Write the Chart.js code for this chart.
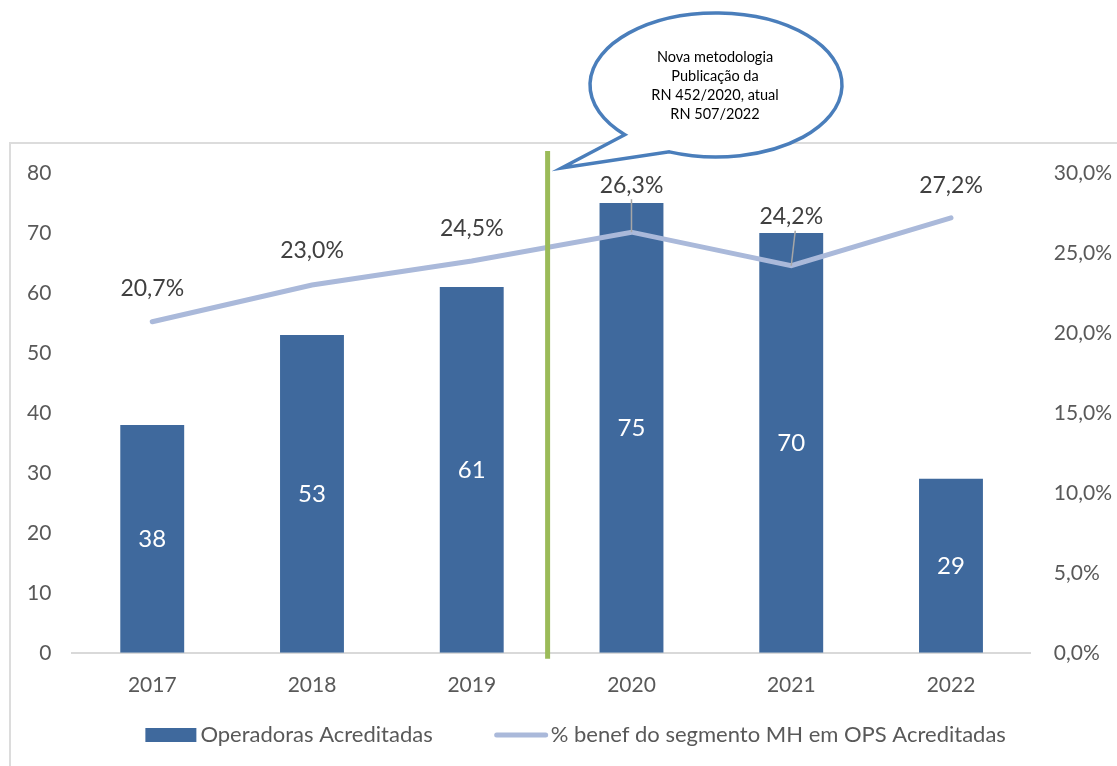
<!DOCTYPE html>
<html>
<head>
<meta charset="utf-8">
<script src="https://cdn.jsdelivr.net/npm/chart.js@4"></script>
<style>
  html, body { margin: 0; padding: 0; background: #fff; }
  #wrap { width: 1117px; height: 766px; }
</style>
</head>
<body>
<div id="wrap"><canvas id="myChart" width="1117" height="766"></canvas></div>
<script>
  const years = ['2017', '2018', '2019', '2020', '2021', '2022'];
  const operadoras = [38, 53, 61, 75, 70, 29];
  const pctBenef = [20.7, 23.0, 24.5, 26.3, 24.2, 27.2];
  const calloutLines = ['Nova metodologia', 'Publicação da', 'RN 452/2020, atual', 'RN 507/2022'];

  const barColor = '#3F699D';
  const lineColor = '#AAB9DA';
  const textColor = '#595959';
  const fontFamily = 'Lato, "Open Sans", sans-serif';

  const fmtPct = v => v.toFixed(1).replace('.', ',') + '%';

  // frame around the chart
  const framePlugin = {
    id: 'frame',
    beforeDraw(chart) {
      const ctx = chart.ctx;
      ctx.save();
      ctx.strokeStyle = '#DCDCDC';
      ctx.lineWidth = 2;
      ctx.strokeRect(10, 143, chart.width + 20, chart.height + 20);
      ctx.restore();
    }
  };

  // value labels on bars and line points
  const labelPlugin = {
    id: 'valueLabels',
    afterDatasetsDraw(chart) {
      const ctx = chart.ctx;
      ctx.save();
      ctx.textAlign = 'center';
      ctx.textBaseline = 'middle';

      const barMeta = chart.getDatasetMeta(0);
      ctx.font = '24px ' + fontFamily;
      ctx.fillStyle = '#FFFFFF';
      barMeta.data.forEach((el, i) => {
        ctx.fillText(operadoras[i], el.x, (el.y + el.base) / 2);
      });

      const lift = [33, 34, 32, 47, 49, 32];
      const lineMeta = chart.getDatasetMeta(1);
      ctx.font = '23px ' + fontFamily;
      lineMeta.data.forEach((el, i) => {
        const ly = el.y - lift[i];
        if (lift[i] > 40) {
          ctx.strokeStyle = '#A6A6A6';
          ctx.lineWidth = 1.5;
          ctx.beginPath();
          ctx.moveTo(el.x + (i === 4 ? 4 : 0), ly + 14);
          ctx.lineTo(el.x, el.y);
          ctx.stroke();
        }
        ctx.fillStyle = '#404040';
        ctx.fillText(fmtPct(pctBenef[i]), el.x, ly);
      });
      ctx.restore();
    }
  };

  // green divider + speech bubble
  const calloutPlugin = {
    id: 'callout',
    afterDraw(chart) {
      const ctx = chart.ctx;
      const x = chart.scales.x;
      const yScale = chart.scales.y;
      const xm = (x.getPixelForValue(2) + x.getPixelForValue(3)) / 2 - 4;
      ctx.save();
      ctx.strokeStyle = '#9BBB59';
      ctx.lineWidth = 5;
      ctx.beginPath();
      ctx.moveTo(xm, yScale.top - 22);
      ctx.lineTo(xm, yScale.bottom + 6);
      ctx.stroke();

      const cx = 716, cy = 85, rx = 126, ry = 72;
      const a1 = 2.38, a2 = 1.95;
      ctx.beginPath();
      ctx.ellipse(cx, cy, rx, ry, 0, a1, a2 + 2 * Math.PI, false);
      ctx.lineTo(xm + 14, 168);
      ctx.closePath();
      ctx.fillStyle = '#FFFFFF';
      ctx.fill();
      ctx.strokeStyle = '#4A7EBB';
      ctx.lineWidth = 3.5;
      ctx.stroke();

      ctx.fillStyle = '#000000';
      ctx.font = '14.5px ' + fontFamily;
      ctx.textAlign = 'center';
      ctx.textBaseline = 'middle';
      calloutLines.forEach((t, i) => ctx.fillText(t, cx - 1, 57 + i * 19));
      ctx.restore();
    }
  };

  // legend drawn under the axis
  const legendPlugin = {
    id: 'bottomLegend',
    afterDraw(chart) {
      const ctx = chart.ctx;
      const ds = chart.data.datasets;
      ctx.save();
      ctx.font = '22px ' + fontFamily;
      ctx.textBaseline = 'middle';
      ctx.textAlign = 'left';
      const w1 = ctx.measureText(ds[0].label).width;
      const w2 = ctx.measureText(ds[1].label).width;
      const total = 51 + 4 + w1 + 61 + 55 + 2 + w2;
      const ca = chart.chartArea;
      let cx = (ca.left + ca.right) / 2 + 24 - total / 2;
      const y = 735;

      ctx.fillStyle = barColor;
      ctx.fillRect(cx, y - 7, 51, 14);
      cx += 55;
      ctx.fillStyle = textColor;
      ctx.fillText(ds[0].label, cx, y);
      cx += w1 + 61;

      ctx.strokeStyle = lineColor;
      ctx.lineWidth = 5;
      ctx.lineCap = 'round';
      ctx.beginPath();
      ctx.moveTo(cx + 3, y);
      ctx.lineTo(cx + 52, y);
      ctx.stroke();
      cx += 57;
      ctx.fillText(ds[1].label, cx, y);
      ctx.restore();
    }
  };

  new Chart(document.getElementById('myChart'), {
    type: 'bar',
    data: {
      labels: years,
      datasets: [
        {
          type: 'bar',
          label: 'Operadoras Acreditadas',
          data: operadoras,
          backgroundColor: barColor,
          yAxisID: 'y',
          categoryPercentage: 1,
          barPercentage: 0.4,
          order: 2
        },
        {
          type: 'line',
          label: '% benef do segmento MH em OPS Acreditadas',
          data: pctBenef,
          borderColor: lineColor,
          backgroundColor: lineColor,
          borderWidth: 5,
          borderCapStyle: 'round',
          pointRadius: 0,
          tension: 0,
          yAxisID: 'y1',
          order: 1
        }
      ]
    },
    options: {
      responsive: false,
      animation: false,
      layout: { padding: { top: 173, left: 6, right: -18, bottom: 48 } },
      scales: {
        x: {
          grid: { display: false, drawTicks: false },
          border: { color: '#D9D9D9', width: 2 },
          ticks: { color: textColor, font: { size: 21, family: fontFamily }, padding: 20 }
        },
        y: {
          position: 'left',
          min: 0, max: 80,
          grid: { display: false, drawTicks: false },
          border: { display: false },
          ticks: { stepSize: 10, color: textColor, font: { size: 21, family: fontFamily }, padding: 21 }
        },
        y1: {
          position: 'right',
          min: 0, max: 30,
          grid: { display: false, drawTicks: false },
          border: { display: false },
          ticks: {
            stepSize: 5, color: textColor, padding: 23,
            font: { size: 21, family: fontFamily },
            callback: v => fmtPct(v)
          }
        }
      },
      plugins: {
        tooltip: { enabled: false },
        legend: { display: false }
      }
    },
    plugins: [framePlugin, labelPlugin, calloutPlugin, legendPlugin]
  });
</script>
</body>
</html>
